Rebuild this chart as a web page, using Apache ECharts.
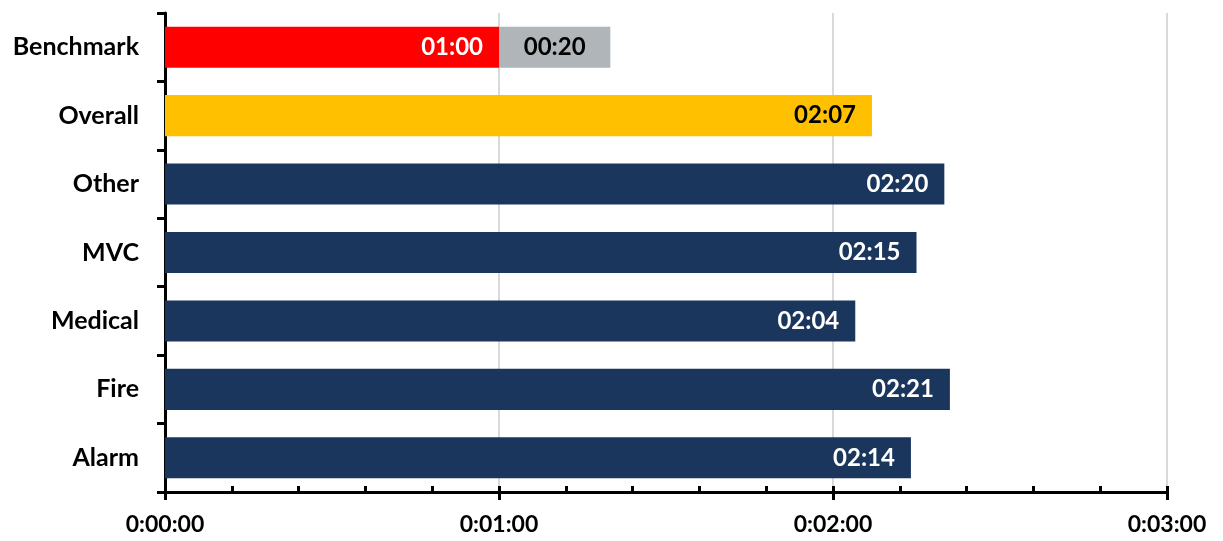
<!DOCTYPE html>
<html>
<head>
<meta charset="utf-8">
<script src="https://cdn.jsdelivr.net/npm/echarts@6/dist/echarts.min.js"></script>
<style>
  html, body { margin: 0; padding: 0; background: #fff; }
  #chart { width: 1223px; height: 541px; }
</style>
</head>
<body>
<div id="chart"></div>
<script>
// data (seconds)
const categories = ['Benchmark', 'Overall', 'Other', 'MVC', 'Medical', 'Fire', 'Alarm']
const mainValues = [60, 127, 140, 135, 124, 141, 134]
const extraValues = [20, '-', '-', '-', '-', '-', '-']
const xTicks = [0, 60, 120, 180]

const FONT = 'Lato, "Open Sans", sans-serif'
const NAVY = '#1b365d'

function pad(n) { return String(n).padStart(2, '0') }
function mmss(s) { return pad(Math.floor(s / 60)) + ':' + pad(s % 60) }
function hmmss(s) { return Math.floor(s / 3600) + ':' + pad(Math.floor(s / 60) % 60) + ':' + pad(s % 60) }

function barColor(i) {
  if (i === 0) return '#ff0000'
  if (i === 1) return '#ffc000'
  return NAVY
}

const chart = echarts.init(document.getElementById('chart'), null, { renderer: 'canvas' })

const labelText = { fontFamily: FONT, fontWeight: 'bold', fontSize: 23 }
const axisStroke = { color: '#000', width: 3 }

chart.setOption({
  animation: false,
  backgroundColor: '#fff',
  grid: { left: 165, right: 56, top: 13, bottom: 49, containLabel: false },
  xAxis: [
    {
      type: 'value', min: xTicks[0], max: xTicks[xTicks.length - 1], interval: 60,
      axisLine: { show: true, lineStyle: axisStroke },
      axisTick: { show: true, inside: false, length: 8, lineStyle: axisStroke },
      axisLabel: { ...labelText, color: '#000', margin: 21, formatter: hmmss, showMinLabel: true, showMaxLabel: true },
      splitLine: { show: true, lineStyle: { color: '#d9d9d9', width: 2 } }
    },
    {
      // minor ticks pointing into the plot
      type: 'value', position: 'bottom', min: 0, max: 180, interval: 12,
      axisLine: { show: false },
      axisTick: { show: true, inside: true, length: 6, lineStyle: axisStroke },
      axisLabel: { show: false },
      splitLine: { show: false }
    }
  ],
  yAxis: [
    {
      type: 'category', data: categories, inverse: true,
      axisLine: { show: true, lineStyle: axisStroke },
      axisTick: { show: true, inside: false, length: 8, lineStyle: axisStroke },
      axisLabel: { ...labelText, fontSize: 25, color: '#000', margin: 26 },
      splitLine: { show: false }
    },
    {
      // inner ticks at category centres
      type: 'category', data: categories, inverse: true, position: 'left',
      axisLine: { show: false },
      axisTick: { show: true, inside: true, alignWithLabel: true, length: 6, lineStyle: axisStroke },
      axisLabel: { show: false },
      splitLine: { show: false }
    }
  ],
  series: [
    {
      type: 'bar', stack: 'total', xAxisIndex: 0, yAxisIndex: 0, barWidth: '60%',
      data: mainValues.map((v, i) => ({
        value: v,
        itemStyle: { color: barColor(i) },
        label: { color: i === 1 ? '#000' : '#fff' }
      })),
      label: {
        show: true, position: 'insideRight', distance: 16, ...labelText, fontSize: 24,
        formatter: p => mmss(p.value)
      }
    },
    {
      type: 'bar', stack: 'total', xAxisIndex: 0, yAxisIndex: 0, barWidth: '60%',
      data: extraValues,
      itemStyle: { color: '#afb5b8' },
      label: {
        show: true, position: 'inside', ...labelText, fontSize: 24, color: '#000',
        formatter: p => mmss(p.value)
      }
    }
  ]
})
</script>
</body>
</html>
